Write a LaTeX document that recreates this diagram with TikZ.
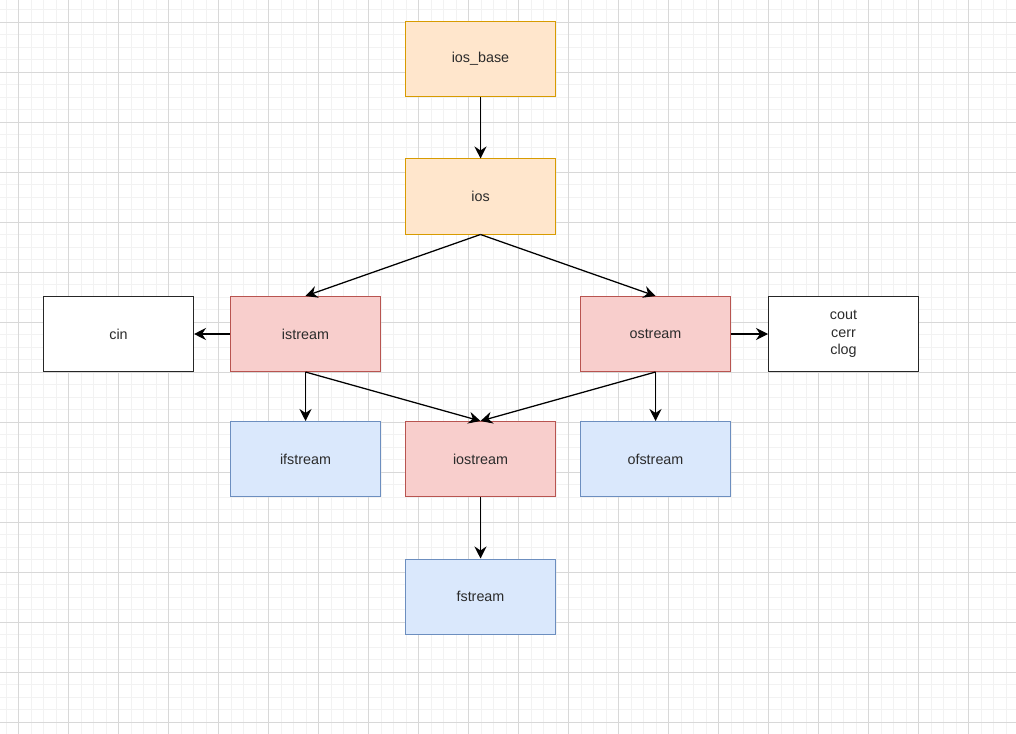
\documentclass[tikz,border=0pt]{standalone}
\usepackage{fontspec}
\setmainfont{Liberation Sans}
\usetikzlibrary{arrows.meta}
\definecolor{orangefill}{HTML}{FFE6CC}
\definecolor{orangeline}{HTML}{D79B00}
\definecolor{redfill}{HTML}{F8CECC}
\definecolor{redline}{HTML}{B85450}
\definecolor{bluefill}{HTML}{DAE8FC}
\definecolor{blueline}{HTML}{6C8EBF}
\definecolor{minorgrid}{HTML}{F2F2F2}
\definecolor{majorgrid}{HTML}{D8D8D8}
\definecolor{textgray}{HTML}{2B2B2B}

\begin{document}
\begin{tikzpicture}[x=0.025cm, y=-0.025cm, >={Stealth[length=3mm, width=3mm, inset=1mm]},
  box/.style={rectangle, draw, line width=0.7pt, minimum width=3.75cm,
    minimum height=1.875cm, inner sep=0pt, text=textgray,
    font=\fontsize{10.2}{12.4}\selectfont},
  orangebox/.style={box, fill=orangefill, draw=orangeline},
  redbox/.style={box, fill=redfill, draw=redline},
  bluebox/.style={box, fill=bluefill, draw=blueline},
  plainbox/.style={box, fill=white, draw=black!85, align=center}]
  \useasboundingbox (-0.5,-0.5) rectangle (1015.5,733.5);
  \fill[white] (-0.5,-0.5) rectangle (1015.5,733.5);
  % grid
  \foreach \k in {0,...,80}
    \draw[minorgrid, line width=0.7pt] (5.8+12.5*\k, 0) -- (5.8+12.5*\k, 734);
  \foreach \k in {0,...,58}
    \draw[minorgrid, line width=0.7pt] (0, 9.2+12.5*\k) -- (1016, 9.2+12.5*\k);
  \foreach \k in {0,...,19}
    \draw[majorgrid, line width=0.7pt] (18.3+50*\k, 0) -- (18.3+50*\k, 734);
  \foreach \k in {0,...,14}
    \draw[majorgrid, line width=0.7pt] (0, 21.7+50*\k) -- (1016, 21.7+50*\k);

  \node[orangebox] (iosbase) at (480, 58.5) {ios\_base};
  \node[orangebox] (ios) at (480, 196) {ios};
  \node[redbox] (istream) at (305, 333.5) {istream};
  \node[redbox] (ostream) at (655, 333.5) {ostream};
  \node[plainbox] (cin) at (118, 333.5) {cin};
  \node[plainbox] (cout) at (843, 333.5) {cout\\cerr\\clog};
  \node[bluebox] (ifstream) at (305, 458.5) {ifstream};
  \node[redbox] (iostream) at (480, 458.5) {iostream};
  \node[bluebox] (ofstream) at (655, 458.5) {ofstream};
  \node[bluebox] (fstream) at (480, 596) {fstream};

  \draw[->, line width=0.9pt] (iosbase) -- (ios);
  \draw[->, line width=0.9pt] (ios.south) -- (istream.north);
  \draw[->, line width=0.9pt] (ios.south) -- (ostream.north);
  \draw[->, line width=0.9pt] (istream) -- (cin);
  \draw[->, line width=0.9pt] (ostream) -- (cout);
  \draw[->, line width=0.9pt] (istream) -- (ifstream);
  \draw[->, line width=0.9pt] (ostream) -- (ofstream);
  \draw[->, line width=0.9pt] (istream.south) -- (iostream.north);
  \draw[->, line width=0.9pt] (ostream.south) -- (iostream.north);
  \draw[->, line width=0.9pt] (iostream) -- (fstream);
\end{tikzpicture}
\end{document}
